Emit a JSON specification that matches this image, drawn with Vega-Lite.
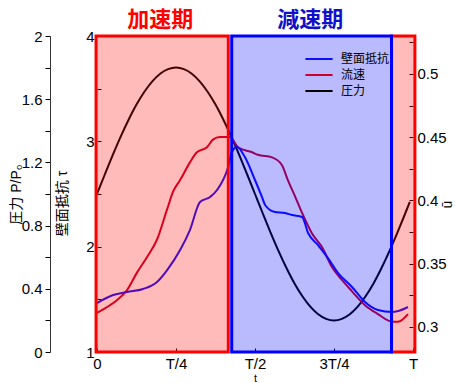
{
  "$schema": "https://vega.github.io/schema/vega-lite/v6.json",
  "width": 316,
  "height": 316,
  "autosize": "none",
  "padding": {"left": 97, "top": 36, "right": 42, "bottom": 31},
  "background": "white",
  "config": {
    "view": {"stroke": null},
    "font": "Liberation Sans, Noto Sans CJK JP",
    "axis": {"labelFont": "Liberation Sans", "labelColor": "#000", "tickColor": "#000", "domainColor": "#000", "titleColor": "#000", "grid": false, "labelFontSize": 15, "titleFontWeight": "normal", "titleFont": "Liberation Sans, Noto Sans CJK JP", "labelOverlap": false, "labelFlush": false}
  },
  "datasets": {
    "curves": [
      {"series": "圧力", "t": 0, "value": 1.0},
      {"series": "圧力", "t": 0.025, "value": 1.125},
      {"series": "圧力", "t": 0.05, "value": 1.247},
      {"series": "圧力", "t": 0.075, "value": 1.363},
      {"series": "圧力", "t": 0.1, "value": 1.47},
      {"series": "圧力", "t": 0.125, "value": 1.566},
      {"series": "圧力", "t": 0.15, "value": 1.647},
      {"series": "圧力", "t": 0.175, "value": 1.713},
      {"series": "圧力", "t": 0.2, "value": 1.761},
      {"series": "圧力", "t": 0.225, "value": 1.79},
      {"series": "圧力", "t": 0.25, "value": 1.8},
      {"series": "圧力", "t": 0.275, "value": 1.79},
      {"series": "圧力", "t": 0.3, "value": 1.761},
      {"series": "圧力", "t": 0.325, "value": 1.713},
      {"series": "圧力", "t": 0.35, "value": 1.647},
      {"series": "圧力", "t": 0.375, "value": 1.566},
      {"series": "圧力", "t": 0.4, "value": 1.47},
      {"series": "圧力", "t": 0.425, "value": 1.363},
      {"series": "圧力", "t": 0.45, "value": 1.247},
      {"series": "圧力", "t": 0.475, "value": 1.125},
      {"series": "圧力", "t": 0.5, "value": 1.0},
      {"series": "圧力", "t": 0.525, "value": 0.875},
      {"series": "圧力", "t": 0.55, "value": 0.753},
      {"series": "圧力", "t": 0.575, "value": 0.637},
      {"series": "圧力", "t": 0.6, "value": 0.53},
      {"series": "圧力", "t": 0.625, "value": 0.434},
      {"series": "圧力", "t": 0.65, "value": 0.353},
      {"series": "圧力", "t": 0.675, "value": 0.287},
      {"series": "圧力", "t": 0.7, "value": 0.239},
      {"series": "圧力", "t": 0.725, "value": 0.21},
      {"series": "圧力", "t": 0.75, "value": 0.2},
      {"series": "圧力", "t": 0.775, "value": 0.21},
      {"series": "圧力", "t": 0.8, "value": 0.239},
      {"series": "圧力", "t": 0.825, "value": 0.287},
      {"series": "圧力", "t": 0.85, "value": 0.353},
      {"series": "圧力", "t": 0.875, "value": 0.434},
      {"series": "圧力", "t": 0.9, "value": 0.53},
      {"series": "圧力", "t": 0.925, "value": 0.637},
      {"series": "圧力", "t": 0.95, "value": 0.753},
      {"series": "圧力", "t": 0.975, "value": 0.875},
      {"series": "圧力", "t": 0.99, "value": 0.95},
      {"series": "流速", "t": 0, "value": 0.311},
      {"series": "流速", "t": 0.041, "value": 0.317},
      {"series": "流速", "t": 0.063, "value": 0.321},
      {"series": "流速", "t": 0.095, "value": 0.329},
      {"series": "流速", "t": 0.127, "value": 0.343},
      {"series": "流速", "t": 0.158, "value": 0.355},
      {"series": "流速", "t": 0.19, "value": 0.369},
      {"series": "流速", "t": 0.222, "value": 0.393},
      {"series": "流速", "t": 0.241, "value": 0.407},
      {"series": "流速", "t": 0.263, "value": 0.416},
      {"series": "流速", "t": 0.294, "value": 0.43},
      {"series": "流速", "t": 0.316, "value": 0.438},
      {"series": "流速", "t": 0.348, "value": 0.442},
      {"series": "流速", "t": 0.367, "value": 0.448},
      {"series": "流速", "t": 0.389, "value": 0.45},
      {"series": "流速", "t": 0.421, "value": 0.45},
      {"series": "流速", "t": 0.446, "value": 0.442},
      {"series": "流速", "t": 0.491, "value": 0.438},
      {"series": "流速", "t": 0.509, "value": 0.436},
      {"series": "流速", "t": 0.554, "value": 0.434},
      {"series": "流速", "t": 0.585, "value": 0.428},
      {"series": "流速", "t": 0.604, "value": 0.416},
      {"series": "流速", "t": 0.627, "value": 0.403},
      {"series": "流速", "t": 0.649, "value": 0.39},
      {"series": "流速", "t": 0.68, "value": 0.374},
      {"series": "流速", "t": 0.712, "value": 0.363},
      {"series": "流速", "t": 0.744, "value": 0.347},
      {"series": "流速", "t": 0.775, "value": 0.337},
      {"series": "流速", "t": 0.807, "value": 0.328},
      {"series": "流速", "t": 0.848, "value": 0.317},
      {"series": "流速", "t": 0.889, "value": 0.31},
      {"series": "流速", "t": 0.934, "value": 0.304},
      {"series": "流速", "t": 0.953, "value": 0.304},
      {"series": "流速", "t": 0.984, "value": 0.31},
      {"series": "壁面抵抗", "t": 0, "value": 1.465},
      {"series": "壁面抵抗", "t": 0.051, "value": 1.541},
      {"series": "壁面抵抗", "t": 0.095, "value": 1.57},
      {"series": "壁面抵抗", "t": 0.146, "value": 1.598},
      {"series": "壁面抵抗", "t": 0.19, "value": 1.665},
      {"series": "壁面抵抗", "t": 0.222, "value": 1.778},
      {"series": "壁面抵抗", "t": 0.263, "value": 1.968},
      {"series": "壁面抵抗", "t": 0.294, "value": 2.158},
      {"series": "壁面抵抗", "t": 0.326, "value": 2.424},
      {"series": "壁面抵抗", "t": 0.358, "value": 2.472},
      {"series": "壁面抵抗", "t": 0.38, "value": 2.538},
      {"series": "壁面抵抗", "t": 0.415, "value": 2.756},
      {"series": "壁面抵抗", "t": 0.427, "value": 2.899},
      {"series": "壁面抵抗", "t": 0.443, "value": 2.946},
      {"series": "壁面抵抗", "t": 0.468, "value": 2.851},
      {"series": "壁面抵抗", "t": 0.5, "value": 2.633},
      {"series": "壁面抵抗", "t": 0.522, "value": 2.472},
      {"series": "壁面抵抗", "t": 0.532, "value": 2.396},
      {"series": "壁面抵抗", "t": 0.563, "value": 2.329},
      {"series": "壁面抵抗", "t": 0.595, "value": 2.32},
      {"series": "壁面抵抗", "t": 0.617, "value": 2.3},
      {"series": "壁面抵抗", "t": 0.649, "value": 2.282},
      {"series": "壁面抵抗", "t": 0.668, "value": 2.13},
      {"series": "壁面抵抗", "t": 0.699, "value": 2.016},
      {"series": "壁面抵抗", "t": 0.731, "value": 1.892},
      {"series": "壁面抵抗", "t": 0.763, "value": 1.75},
      {"series": "壁面抵抗", "t": 0.807, "value": 1.617},
      {"series": "壁面抵抗", "t": 0.848, "value": 1.475},
      {"series": "壁面抵抗", "t": 0.889, "value": 1.399},
      {"series": "壁面抵抗", "t": 0.934, "value": 1.38},
      {"series": "壁面抵抗", "t": 0.953, "value": 1.389},
      {"series": "壁面抵抗", "t": 0.984, "value": 1.427}
    ],
    "zones": [
      {"phase": "加速期", "t0": -0.003, "t1": 0.4155},
      {"phase": "加速期", "t0": 0.932, "t1": 1.006},
      {"phase": "減速期", "t0": 0.4263, "t1": 0.932}
    ],
    "labels": [
      {"phase": "加速期", "t": 0.2, "tau": 4.152},
      {"phase": "減速期", "t": 0.675, "tau": 4.152}
    ]
  },
  "layer": [
    {
      "data": {"name": "curves"},
      "transform": [{"filter": "datum.series === '圧力'"}],
      "mark": {"type": "line", "strokeWidth": 2, "interpolate": "monotone"},
      "encoding": {
        "x": {"field": "t", "type": "quantitative", "scale": {"domain": [0, 1], "nice": false, "zero": false},
          "axis": {"values": [0, 0.125, 0.25, 0.375, 0.5, 0.625, 0.75, 0.875, 1],
            "labelExpr": "datum.value == 0 ? '0' : datum.value == 0.25 ? 'T/4' : datum.value == 0.5 ? 'T/2' : datum.value == 0.75 ? '3T/4' : datum.value == 1 ? 'T' : ''",
            "title": "t", "titleFontSize": 11, "titleY": 26, "titleBaseline": "middle", "tickSize": -4, "labelPadding": 8, "domain": false}},
        "y": {"field": "value", "type": "quantitative", "scale": {"domain": [0, 2], "nice": false, "zero": false},
          "axis": {"orient": "left", "offset": 47, "values": [0, 0.2, 0.4, 0.6, 0.8, 1, 1.2, 1.4, 1.6, 1.8, 2],
            "labelExpr": "round(datum.value * 10) % 4 == 0 ? format(datum.value, '~g') : ''",
            "tickSize": 5, "labelPadding": 3, "domain": true, "domainColor": "#333",
            "title": "圧力 P/P₀", "titleFontSize": 14, "titleAngle": 270, "titleX": -34, "titleY": 158, "titleBaseline": "middle", "titleAlign": "center"}},
        "color": {"field": "series", "type": "nominal",
          "scale": {"domain": ["壁面抵抗", "流速", "圧力"], "range": ["#1010ff", "#cc0028", "#000000"]},
          "legend": {"title": null, "orient": "none", "legendX": 213, "legendY": 14, "padding": 0,
            "symbolType": "M-1.7,0L1.7,0", "symbolSize": 256, "symbolStrokeWidth": 2,
            "labelFont": "Noto Sans CJK JP", "labelFontSize": 12, "labelColor": "#000", "labelOffset": 13, "rowPadding": 1}}
      }
    },
    {
      "data": {"name": "curves"},
      "transform": [{"filter": "datum.series === '流速'"}],
      "mark": {"type": "line", "strokeWidth": 2, "interpolate": "monotone"},
      "encoding": {
        "x": {"field": "t", "type": "quantitative"},
        "y": {"field": "value", "type": "quantitative", "scale": {"domain": [0.28, 0.53], "nice": false, "zero": false},
          "axis": {"orient": "right", "values": [0.3, 0.325, 0.35, 0.375, 0.4, 0.425, 0.45, 0.475, 0.5, 0.525],
            "labelExpr": "round(datum.value * 1000) % 50 == 0 ? format(datum.value, '~g') : ''",
            "tickSize": -4, "labelPadding": 8, "domain": false,
            "title": "ū", "titleFontSize": 14, "titleAngle": 270, "titleX": 34, "titleY": 168, "titleBaseline": "middle", "titleAlign": "center"}},
        "color": {"field": "series", "type": "nominal"}
      }
    },
    {
      "data": {"name": "curves"},
      "transform": [{"filter": "datum.series === '壁面抵抗'"}],
      "mark": {"type": "line", "strokeWidth": 2, "interpolate": "monotone"},
      "encoding": {
        "x": {"field": "t", "type": "quantitative"},
        "y": {"field": "value", "type": "quantitative", "scale": {"domain": [1, 4], "nice": false, "zero": false},
          "axis": {"orient": "left", "offset": 0, "values": [1, 1.5, 2, 2.5, 3, 3.5, 4],
            "labelExpr": "datum.value % 1 == 0 ? format(datum.value, 'd') : ''",
            "tickSize": -4, "labelPadding": 7, "domain": false,
            "title": "壁面抵抗 τ", "titleFontSize": 14, "titleAngle": 270, "titleX": -35, "titleY": 167, "titleBaseline": "middle", "titleAlign": "center"}},
        "color": {"field": "series", "type": "nominal"}
      }
    },
    {
      "data": {"name": "zones"},
      "transform": [{"filter": "datum.phase === '加速期'"}],
      "mark": {"type": "rect", "fill": "#ff0000", "fillOpacity": 0.27, "stroke": "#ff0000", "strokeWidth": 3},
      "encoding": {
        "x": {"field": "t0", "type": "quantitative", "title": "t"},
        "x2": {"field": "t1"}
      }
    },
    {
      "data": {"name": "zones"},
      "transform": [{"filter": "datum.phase === '減速期'"}],
      "mark": {"type": "rect", "fill": "#0000ff", "fillOpacity": 0.27, "stroke": "#0000ff", "strokeWidth": 3},
      "encoding": {
        "x": {"field": "t0", "type": "quantitative", "title": "t"},
        "x2": {"field": "t1"}
      }
    },
    {
      "data": {"name": "labels"},
      "transform": [{"filter": "datum.phase === '加速期'"}],
      "mark": {"type": "text", "color": "#ff0000", "font": "Noto Sans CJK JP", "fontSize": 22, "fontWeight": "bold", "baseline": "middle", "align": "center"},
      "encoding": {
        "x": {"field": "t", "type": "quantitative"},
        "y": {"field": "tau", "type": "quantitative", "scale": {"domain": [1, 4], "nice": false, "zero": false}, "axis": null},
        "text": {"field": "phase"}
      }
    },
    {
      "data": {"name": "labels"},
      "transform": [{"filter": "datum.phase === '減速期'"}],
      "mark": {"type": "text", "color": "#1010cc", "font": "Noto Sans CJK JP", "fontSize": 22, "fontWeight": "bold", "baseline": "middle", "align": "center"},
      "encoding": {
        "x": {"field": "t", "type": "quantitative"},
        "y": {"field": "tau", "type": "quantitative", "scale": {"domain": [1, 4], "nice": false, "zero": false}, "axis": null},
        "text": {"field": "phase"}
      }
    }
  ],
  "resolve": {"scale": {"y": "independent"}}
}
